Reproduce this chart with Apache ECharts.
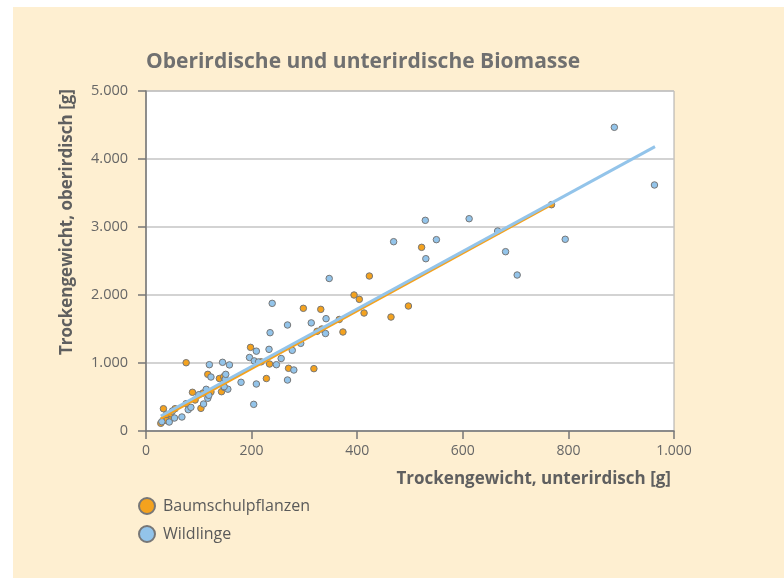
<!DOCTYPE html>
<html>
<head>
<meta charset="utf-8">
<script src="https://cdn.jsdelivr.net/npm/echarts@6/dist/echarts.min.js"></script>
<style>
  html, body { margin: 0; padding: 0; background: #fff; }
  #panel { position: absolute; left: 13px; top: 7px; width: 771px; height: 571px; background: #FEEFD1; }
  #chart { position: absolute; left: 0; top: 0; width: 784px; height: 578px; }
</style>
</head>
<body>
<div id="panel"></div>
<div id="chart"></div>
<script>
// Trockengewicht [g]: [unterirdisch, oberirdisch]
var baumschulpflanzen = [
  [28,113],[34,157],[39,157],[49,191],[39,245],[47,255],[33,328],[55,328],
  [76,402],[104,333],[93,456],[88,569],[108,559],[118,545],[123,574],[143,578],
  [148,642],[139,772],[147,799],[117,833],[76,1004],[198,1230],[218,1017],[234,985],
  [228,772],[270,922],[318,917],[298,1804],[331,1789],[324,1466],[333,1500],[366,1640],
  [373,1456],[394,2000],[404,1936],[423,2279],[413,1735],[464,1676],[497,1838],[522,2701],
  [768,3328]
];
var wildlinge = [
  [30,137],[44,132],[54,191],[68,206],[50,294],[80,314],[85,348],[109,397],
  [117,481],[119,525],[100,534],[114,613],[155,615],[148,652],[180,716],[150,762],
  [123,794],[151,833],[120,975],[145,1010],[158,972],[209,691],[204,392],[196,1081],
  [209,1174],[205,1031],[213,1015],[233,1201],[235,1446],[239,1877],[247,975],[256,1066],
  [268,750],[280,897],[277,1186],[293,1289],[268,1559],[313,1590],[341,1652],[340,1434],
  [347,2243],[469,2784],[530,2534],[529,3098],[550,2814],[612,3122],[666,2941],[681,2637],
  [703,2294],[794,2819],[887,4466],[963,3618]
];
// Trendlinien (Endpunkte)
var trendBaum = [[28,187],[768,3328]];
var trendWild = [[28,220],[964,4181]];

var xTicks = [0,200,400,600,800,1000];
var yTicks = [0,1000,2000,3000,4000,5000];

var orange = '#F4A21E';
var blue = '#93C4EA';
var textGray = '#666';
var fontFam = '"Open Sans", "Noto Sans", sans-serif';

function fmt(v){
  return String(v).replace(/\B(?=(\d{3})+(?!\d))/g, '.');
}

var myChart = echarts.init(document.getElementById('chart'));
var option = {
  backgroundColor: 'transparent',
  animation: false,
  textStyle: { fontFamily: fontFam },
  title: {
    text: 'Oberirdische und unterirdische Biomasse',
    left: 141, top: 47,
    textStyle: { fontSize: 21, fontWeight: 'bold', color: '#707070', fontFamily: fontFam }
  },
  legend: {
    orient: 'vertical',
    left: 133, top: 492,
    itemWidth: 16, itemHeight: 16, itemGap: 10,
    icon: 'circle',
    data: ['Baumschulpflanzen', 'Wildlinge'],
    textStyle: { fontSize: 16, color: '#5a5a5a', fontFamily: fontFam, padding: [0,0,0,3] }
  },
  grid: {
    left: 146, right: 110, top: 91, bottom: 147,
    show: true, backgroundColor: '#fff', borderColor: '#aaa', borderWidth: 1
  },
  xAxis: {
    type: 'value', min: 0, max: 1000, interval: 200,
    axisLine: { show: true, onZero: false, lineStyle: { color: '#777', width: 1.5 } },
    axisTick: { show: true, length: 8, lineStyle: { color: '#777', width: 1.5 } },
    splitLine: { show: false },
    axisLabel: { margin: 13, fontSize: 14, color: textGray, formatter: function(v){ return xTicks.indexOf(v) >= 0 ? fmt(v) : ''; } }
  },
  yAxis: {
    type: 'value', min: 0, max: 5000, interval: 1000,
    axisLine: { show: true, onZero: false, lineStyle: { color: '#777', width: 1.5 } },
    axisTick: { show: true, length: 8, lineStyle: { color: '#777', width: 1.5 } },
    splitLine: { show: true, lineStyle: { color: '#c4c4c4', width: 1.5 } },
    axisLabel: { margin: 18, fontSize: 14.5, color: textGray, formatter: function(v){ return yTicks.indexOf(v) >= 0 ? fmt(v) : ''; } }
  },
  graphic: [
    {
      type: 'text', x: 67, y: 89, rotation: Math.PI / 2,
      style: { text: 'Trockengewicht, oberirdisch [g]', align: 'right', verticalAlign: 'middle',
               fill: '#5f5f5f', font: 'bold 17px ' + fontFam }
    },
    {
      type: 'text', x: 671, y: 479,
      style: { text: 'Trockengewicht, unterirdisch [g]', align: 'right', verticalAlign: 'middle',
               fill: '#5f5f5f', font: 'bold 17px ' + fontFam }
    }
  ],
  series: [
    {
      name: 'Baumschulpflanzen', type: 'scatter', data: baumschulpflanzen,
      symbolSize: 6.5, z: 3,
      itemStyle: { color: orange, borderColor: '#777', borderWidth: 1, opacity: 1 }
    },
    {
      name: 'Wildlinge', type: 'scatter', data: wildlinge,
      symbolSize: 6.5, z: 3,
      itemStyle: { color: blue, borderColor: '#777', borderWidth: 1, opacity: 1 }
    },
    {
      name: 'Trend Baumschulpflanzen', type: 'line', data: trendBaum,
      showSymbol: false, symbol: 'none', z: 4,
      lineStyle: { color: orange, width: 2.5 }
    },
    {
      name: 'Trend Wildlinge', type: 'line', data: trendWild,
      showSymbol: false, symbol: 'none', z: 5,
      lineStyle: { color: blue, width: 3 }
    }
  ]
};
myChart.setOption(option, true);
</script>
</body>
</html>
